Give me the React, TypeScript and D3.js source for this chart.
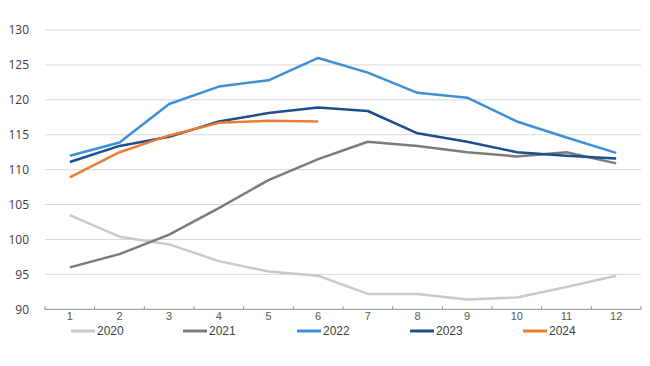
import React from "react";
import * as d3 from "d3";

const months = [1, 2, 3, 4, 5, 6, 7, 8, 9, 10, 11, 12];
const yTicks = [90, 95, 100, 105, 110, 115, 120, 125, 130];
const seriesNames = ["2020", "2021", "2022", "2023", "2024"];
const seriesColors = ["#c9c9c9", "#7b7b7b", "#3f8fd8", "#1f4e8d", "#ed7d31"];
const v2020 = [103.5, 100.4, 99.3, 96.9, 95.4, 94.8, 92.2, 92.2, 91.4, 91.7, 93.2, 94.8];
const v2021 = [96.0, 97.9, 100.7, 104.5, 108.5, 111.5, 114.0, 113.4, 112.5, 111.9, 112.5, 110.9];
const v2022 = [112.0, 113.9, 119.4, 121.9, 122.8, 126.0, 123.9, 121.0, 120.3, 116.9, 114.6, 112.4];
const v2023 = [111.1, 113.4, 114.7, 116.9, 118.1, 118.9, 118.4, 115.2, 114.0, 112.5, 112.0, 111.6];
const v2024 = [108.9, 112.5, 114.9, 116.7, 117.0, 116.9];
const seriesValues = [v2020, v2021, v2022, v2023, v2024];

export default function App() {
  const W = 650, H = 366;
  const x = d3.scaleBand<number>().domain(months).range([45, 641]);
  const y = d3.scaleLinear().domain([90, 130]).range([309.3, 30]);
  const cx = (m: number) => (x(m) as number) + x.bandwidth() / 2;
  const line = d3.line<number>().x((_, i) => cx(months[i])).y((d) => y(d));
  const boundaries = months.map((m) => x(m) as number).concat([641]);
  const legendX = [71, 183, 297, 410, 523];

  return (
    <svg width={W} height={H} style={{ position: "absolute", left: 0, top: 0, background: "#fff" }}>
      {yTicks.slice(1).map((t) => (
        <line key={t} x1={45} x2={641} y1={y(t)} y2={y(t)} stroke="#d9d9d9" strokeWidth={1} />
      ))}
      {yTicks.map((t) => (
        <text key={t} x={29} y={y(t)} dy="0.35em" textAnchor="end" fontFamily="Open Sans" fontSize={12} fill="#404040">
          {t}
        </text>
      ))}
      <line x1={45} x2={641} y1={y(90)} y2={y(90)} stroke="#8c8c8c" strokeWidth={1} />
      {boundaries.map((b, i) => (
        <line key={i} x1={b} x2={b} y1={y(90)} y2={y(90) - 3} stroke="#8c8c8c" strokeWidth={1} />
      ))}
      {months.map((m) => (
        <text key={m} x={cx(m)} y={320} textAnchor="middle" fontFamily="Liberation Sans" fontSize={11} fill="#595959">
          {m}
        </text>
      ))}
      {seriesValues.map((vals, i) => (
        <path key={i} d={line(vals) || ""} fill="none" stroke={seriesColors[i]} strokeWidth={2.5} strokeLinejoin="round" />
      ))}
      {seriesNames.map((n, i) => (
        <g key={n}>
          <line x1={legendX[i]} x2={legendX[i] + 24} y1={331} y2={331} stroke={seriesColors[i]} strokeWidth={3} />
          <text x={legendX[i] + 26} y={331} dy="0.35em" fontFamily="Liberation Sans" fontSize={12} fill="#404040">
            {n}
          </text>
        </g>
      ))}
    </svg>
  );
}
